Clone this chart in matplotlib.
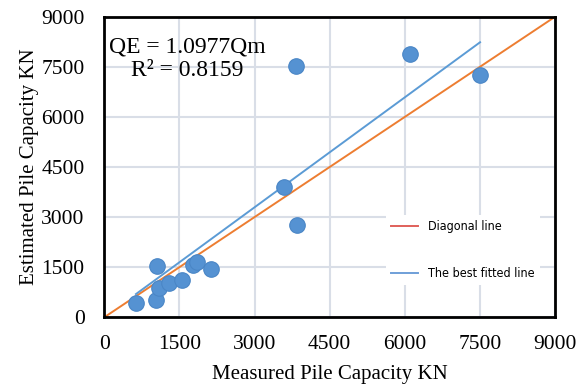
import numpy as np
import matplotlib.pyplot as plt
from matplotlib.lines import Line2D

# measured vs estimated pile capacity (kN)
measured = [634, 1028, 1060, 1100, 1300, 1548, 1780, 1860, 2128,
            3594, 3848, 3834, 6100, 7500]
estimated = [443, 523, 1540, 873, 1040, 1112, 1579, 1669, 1441,
             3893, 2766, 7520, 7878, 7250]
slope = 1.0977
r2 = 0.8159
ticks = [0, 1500, 3000, 4500, 6000, 7500, 9000]

plt.rcParams['font.family'] = ['Liberation Serif', 'DejaVu Serif']

fig = plt.figure(figsize=(5.82, 3.87), dpi=100)
ax = fig.add_axes([0.179, 0.18, 0.775, 0.777])

ax.set_xlim(0, 9000)
ax.set_ylim(0, 9000)
ax.set_xticks(ticks)
ax.set_yticks(ticks)
ax.grid(True, color='#d9dee7', lw=1.5)
ax.set_axisbelow(True)
for s in ax.spines.values():
    s.set_linewidth(2)
    s.set_color('black')
ax.tick_params(length=0, labelsize=15.5)
ax.tick_params(axis='x', pad=13)
ax.tick_params(axis='y', pad=14)

# diagonal and fitted line
ax.plot([0, 9000], [0, 9000], color='#ED7D31', lw=1.4, zorder=2)
xf = np.array([min(measured), max(measured)])
ax.plot(xf, slope * xf, color='#5B9BD5', lw=1.4, zorder=2)

ax.scatter(measured, estimated, s=125, color='#5592d2', edgecolor='#4a86c6',
           lw=0.8, zorder=3)

ax.text(0.185, 0.935, 'QE = %.4fQm\nR² = %.4f' % (slope, r2),
        transform=ax.transAxes, ha='center', va='top', fontsize=17,
        linespacing=1.15)

ax.set_xlabel('Measured Pile Capacity KN', fontsize=15, labelpad=7.5)
ax.set_ylabel('Estimated Pile Capacity KN', fontsize=15, labelpad=2)

handles = [Line2D([], [], color='#E0605A', lw=1.4),
           Line2D([], [], color='#6f9fd8', lw=1.4)]
leg = ax.legend(handles, ['Diagonal line', 'The best fitted line'],
                loc='upper left', bbox_to_anchor=(0.61, 0.36),
                frameon=True, framealpha=1, edgecolor='none', fancybox=False,
                labelspacing=2.7, handlelength=2.2, handletextpad=0.8,
                prop={'family': 'DejaVu Sans', 'stretch': 'condensed',
                      'size': 9})

fig.savefig('out.png', dpi=100)
